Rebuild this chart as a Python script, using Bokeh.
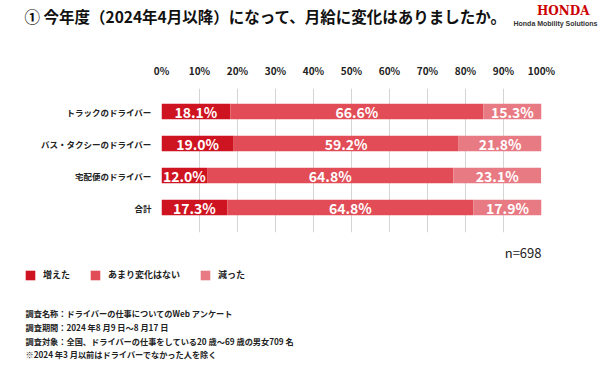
from bokeh.plotting import figure
from bokeh.layouts import column
from bokeh.models import (ColumnDataSource, Range1d, FixedTicker, Label, Legend, LegendItem)
from bokeh.core.properties import value
from bokeh.embed import file_html
from bokeh.resources import INLINE

categories = ["トラックのドライバー", "バス・タクシーのドライバー", "宅配便のドライバー", "合計"]
increased = [18.1, 19.0, 12.0, 17.3]
nochange = [66.6, 59.2, 64.8, 64.8]
decreased = [15.3, 21.8, 23.1, 17.9]
series_names = ["増えた", "あまり変化はない", "減った"]
x_ticks = [0, 10, 20, 30, 40, 50, 60, 70, 80, 90, 100]
title_text = "① 今年度（2024年4月以降）になって、月給に変化はありましたか。"
n_text = "n=698"
notes = [
    "調査名称：ドライバーの仕事についてのWeb アンケート",
    "調査期間：2024 年8 月9 日～8 月17 日",
    "調査対象：全国、ドライバーの仕事をしている20 歳～69 歳の男女709 名",
    "※2024 年3 月以前はドライバーでなかった人を除く",
]

colors = ["#cf1421", "#e14c57", "#e87a83"]
JP = "Noto Sans CJK JP"
W = 600
H_TOP, H_MAIN, H_BOT = 40, 200, 129

ypos = list(range(len(categories), 0, -1))
src = ColumnDataSource(dict(y=ypos, inc=increased, noc=nochange, dec=decreased))


def blank(h, yr=None):
    f = figure(width=W, height=h, output_backend="svg", toolbar_location=None,
               x_range=Range1d(0, 100), y_range=yr or Range1d(0, 1),
               x_axis_location=None, y_axis_location=None, min_border=0,
               frame_align=False)
    f.outline_line_color = None
    f.grid.grid_line_color = None
    return f


# ---------- header ----------
top = blank(H_TOP)
top.add_layout(Label(x=24, y=H_TOP - 15, x_units="screen", y_units="screen", text=title_text,
                     text_font=JP, text_font_style="bold", text_font_size="15.5px",
                     text_color="#111111", text_baseline="middle"))
top.add_layout(Label(x=589, y=H_TOP - 10.5, x_units="screen", y_units="screen", text="HONDA",
                     text_font="DejaVu Serif", text_font_style="bold", text_font_size="12px",
                     text_color="#cc0000", text_baseline="middle", text_align="right"))
top.add_layout(Label(x=597, y=H_TOP - 22.7, x_units="screen", y_units="screen",
                     text="Honda Mobility Solutions",
                     text_font="Liberation Sans", text_font_style="bold", text_font_size="7px",
                     text_color="#333333", text_baseline="middle", text_align="right"))

# ---------- main chart ----------
FL, FR = 161, 541
p = figure(width=W, height=H_MAIN, output_backend="svg", toolbar_location=None,
           x_range=Range1d(0, 100), y_range=Range1d(0.22, 4.72),
           x_axis_location="above", frame_align=False,
           min_border_left=FL, min_border_right=W - FR, min_border_top=48, min_border_bottom=8)
p.outline_line_color = None

rs = p.hbar_stack(["inc", "noc", "dec"], y="y", height=0.48, color=colors, source=src,
                  line_color=None)

lx, ly, lt = [], [], []
for i, y in enumerate(ypos):
    start = 0
    for v in (increased[i], nochange[i], decreased[i]):
        lx.append(start + v / 2)
        ly.append(y)
        lt.append(f"{v:.1f}%")
        start += v
p.text(x=lx, y=ly, text=lt, text_color="white", text_align="center", text_baseline="middle",
       text_font=value(JP), text_font_size="14px", text_font_style="bold")

xa = p.xaxis[0]
xa.ticker = FixedTicker(ticks=x_ticks)
xa.major_label_overrides = {t: f"{t}%" for t in x_ticks}
xa.axis_line_color = None
xa.major_tick_line_color = None
xa.minor_tick_line_color = None
xa.major_label_text_font = JP
xa.major_label_text_font_style = "bold"
xa.major_label_text_font_size = "10px"
xa.major_label_text_color = "#222222"
xa.major_label_standoff = 5

ya = p.yaxis[0]
ya.ticker = FixedTicker(ticks=ypos)
ya.major_label_overrides = {y: c for y, c in zip(ypos, categories)}
ya.axis_line_color = None
ya.major_tick_line_color = None
ya.minor_tick_line_color = None
ya.major_label_text_font = JP
ya.major_label_text_font_style = "bold"
ya.major_label_text_font_size = "8.5px"
ya.major_label_text_color = "#222222"
ya.major_label_standoff = 4

p.xgrid.ticker = FixedTicker(ticks=x_ticks)
p.xgrid.grid_line_color = "#d4d4d4"
p.ygrid.grid_line_color = None

# ---------- footer ----------
# y range far from the data so the legend's source bars stay out of view
bot = blank(H_BOT, Range1d(100, 101))
Y0 = H_TOP + H_MAIN + H_BOT  # page y of footer bottom


def fy(page_y):
    return Y0 - page_y


bot.add_layout(Label(x=541, y=fy(251.7), x_units="screen", y_units="screen", text=n_text,
                     text_font=JP, text_font_size="13px", text_color="#222222",
                     text_baseline="middle", text_align="right"))

leg_rs = bot.hbar_stack(["inc", "noc", "dec"], y="y", height=0.48, color=colors, source=src,
                        line_color=None)
legend = Legend(items=[LegendItem(label=n, renderers=[r]) for n, r in zip(series_names, leg_rs)],
                orientation="horizontal", location=(24, fy(281)), padding=0, margin=0,
                spacing=19, label_standoff=7, glyph_width=12, glyph_height=12,
                label_height=12, label_text_font=JP, label_text_font_style="bold",
                label_text_font_size="9px", label_text_color="#222222",
                border_line_color=None, background_fill_alpha=0)
bot.add_layout(legend, "center")

for i, t in enumerate(notes):
    bot.add_layout(Label(x=25, y=fy(312.7 + i * 13.7), x_units="screen", y_units="screen", text=t,
                         text_font=JP, text_font_style="bold", text_font_size="8.2px",
                         text_color="#222222", text_baseline="middle"))

layout = column(top, p, bot, spacing=0)
open("out.html", "w").write(file_html(layout, INLINE))
